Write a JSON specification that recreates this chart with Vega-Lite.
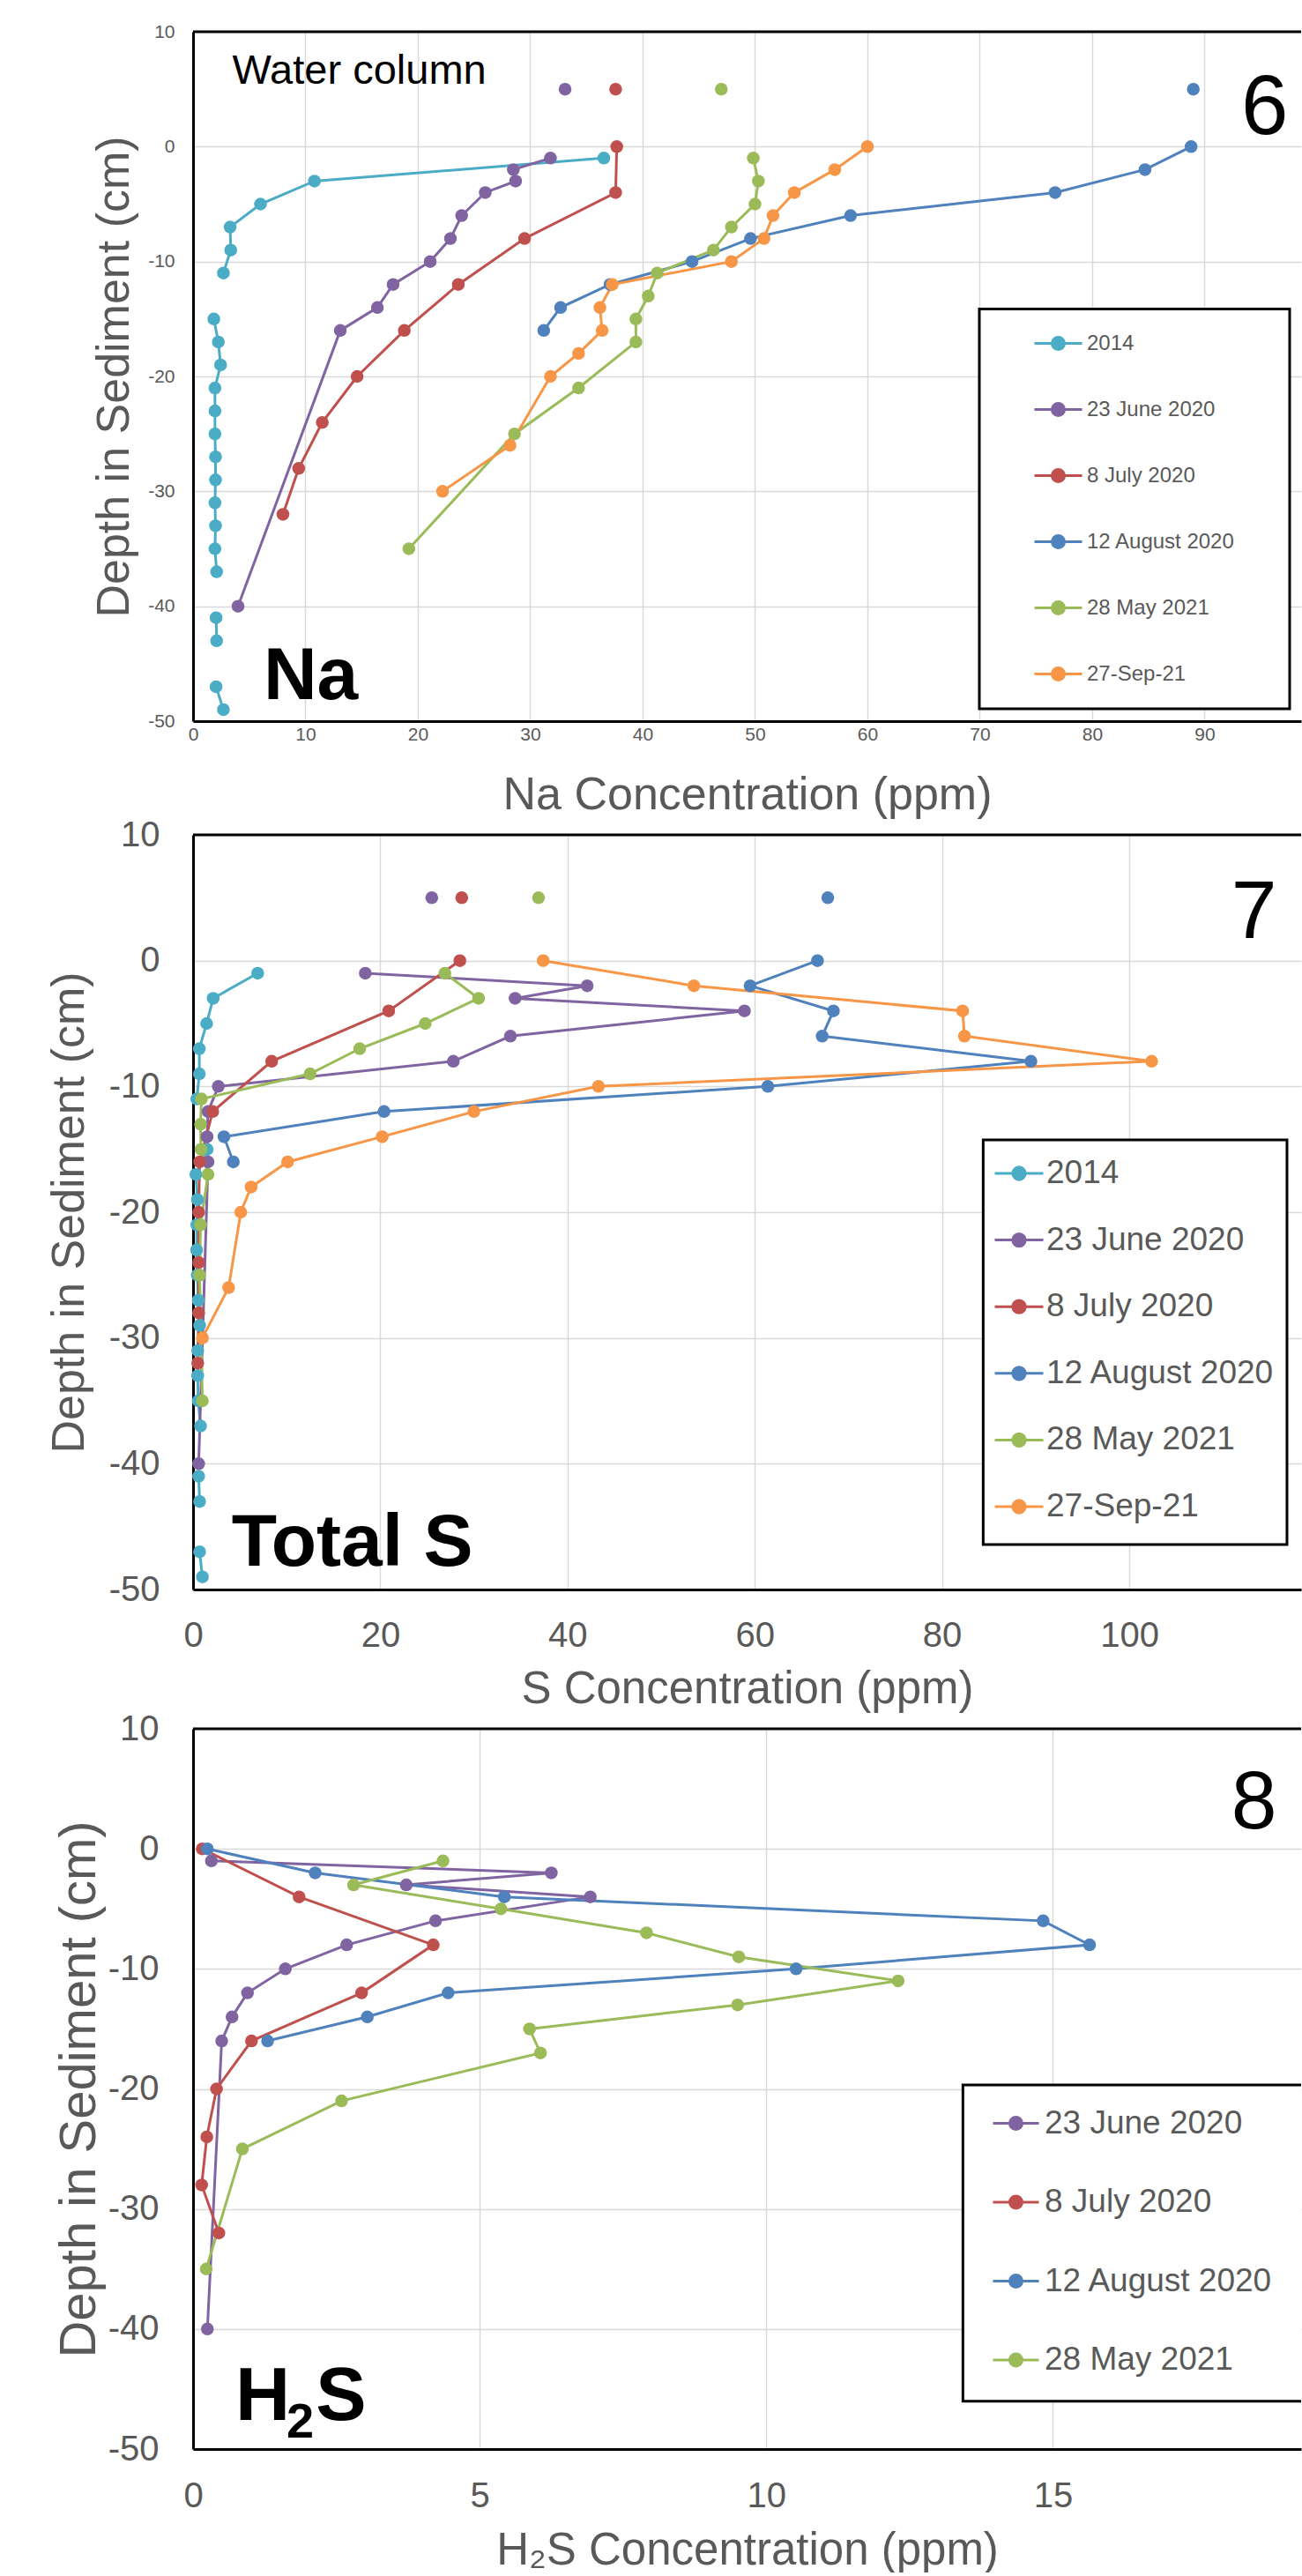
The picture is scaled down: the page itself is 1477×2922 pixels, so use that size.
{
  "$schema": "https://vega.github.io/schema/vega-lite/v6.json",
  "background": "white",
  "padding": {"left": 52, "top": 25, "right": 0, "bottom": 0},
  "spacing": 0,
  "config": {
    "font": "Liberation Sans",
    "locale": {"number": {"decimal": ".", "thousands": ",", "grouping": [3], "currency": ["$", ""], "minus": "-"}},
    "view": {"stroke": null},
    "axis": {
      "domainColor": "#000000", "domainWidth": 3,
      "gridColor": "#d9d9d9", "gridWidth": 1.5,
      "ticks": false,
      "labelColor": "#595959", "titleColor": "#595959",
      "titleFontWeight": "normal", "labelFont": "Liberation Sans", "titleFont": "Liberation Sans",
      "labelFlush": false, "labelOverlap": false
    },
    "legend": {"labelFont": "Liberation Sans"}
  },
  "resolve": {"scale": {"color": "independent"}},
  "datasets": {
    "na": [
      {"series":"2014","depth":-1,"conc":36.55,"zone":"sediment"},
      {"series":"2014","depth":-3,"conc":10.8,"zone":"sediment"},
      {"series":"2014","depth":-5,"conc":6.0,"zone":"sediment"},
      {"series":"2014","depth":-7,"conc":3.3,"zone":"sediment"},
      {"series":"2014","depth":-9,"conc":3.35,"zone":"sediment"},
      {"series":"2014","depth":-11,"conc":2.7,"zone":"sediment"},
      {"series":"2014","depth":-13,"conc":null,"zone":"sediment"},
      {"series":"2014","depth":-15,"conc":1.85,"zone":"sediment"},
      {"series":"2014","depth":-17,"conc":2.25,"zone":"sediment"},
      {"series":"2014","depth":-19,"conc":2.45,"zone":"sediment"},
      {"series":"2014","depth":-21,"conc":1.95,"zone":"sediment"},
      {"series":"2014","depth":-23,"conc":1.95,"zone":"sediment"},
      {"series":"2014","depth":-25,"conc":1.95,"zone":"sediment"},
      {"series":"2014","depth":-27,"conc":2.0,"zone":"sediment"},
      {"series":"2014","depth":-29,"conc":2.0,"zone":"sediment"},
      {"series":"2014","depth":-31,"conc":1.95,"zone":"sediment"},
      {"series":"2014","depth":-33,"conc":2.0,"zone":"sediment"},
      {"series":"2014","depth":-35,"conc":1.95,"zone":"sediment"},
      {"series":"2014","depth":-37,"conc":2.1,"zone":"sediment"},
      {"series":"2014","depth":-39,"conc":null,"zone":"sediment"},
      {"series":"2014","depth":-41,"conc":2.05,"zone":"sediment"},
      {"series":"2014","depth":-43,"conc":2.1,"zone":"sediment"},
      {"series":"2014","depth":-45,"conc":null,"zone":"sediment"},
      {"series":"2014","depth":-47,"conc":2.05,"zone":"sediment"},
      {"series":"2014","depth":-49,"conc":2.7,"zone":"sediment"},
      {"series":"23 June 2020","depth":5,"conc":33.1,"zone":"water column"},
      {"series":"23 June 2020","depth":-1,"conc":31.8,"zone":"sediment"},
      {"series":"23 June 2020","depth":-2,"conc":28.5,"zone":"sediment"},
      {"series":"23 June 2020","depth":-3,"conc":28.7,"zone":"sediment"},
      {"series":"23 June 2020","depth":-4,"conc":26.0,"zone":"sediment"},
      {"series":"23 June 2020","depth":-6,"conc":23.9,"zone":"sediment"},
      {"series":"23 June 2020","depth":-8,"conc":22.9,"zone":"sediment"},
      {"series":"23 June 2020","depth":-10,"conc":21.1,"zone":"sediment"},
      {"series":"23 June 2020","depth":-12,"conc":17.8,"zone":"sediment"},
      {"series":"23 June 2020","depth":-14,"conc":16.4,"zone":"sediment"},
      {"series":"23 June 2020","depth":-16,"conc":13.1,"zone":"sediment"},
      {"series":"23 June 2020","depth":-40,"conc":4.0,"zone":"sediment"},
      {"series":"8 July 2020","depth":5,"conc":37.6,"zone":"water column"},
      {"series":"8 July 2020","depth":0,"conc":37.7,"zone":"sediment"},
      {"series":"8 July 2020","depth":-4,"conc":37.6,"zone":"sediment"},
      {"series":"8 July 2020","depth":-8,"conc":29.5,"zone":"sediment"},
      {"series":"8 July 2020","depth":-12,"conc":23.6,"zone":"sediment"},
      {"series":"8 July 2020","depth":-16,"conc":18.8,"zone":"sediment"},
      {"series":"8 July 2020","depth":-20,"conc":14.6,"zone":"sediment"},
      {"series":"8 July 2020","depth":-24,"conc":11.5,"zone":"sediment"},
      {"series":"8 July 2020","depth":-28,"conc":9.4,"zone":"sediment"},
      {"series":"8 July 2020","depth":-32,"conc":8.0,"zone":"sediment"},
      {"series":"12 August 2020","depth":5,"conc":89.0,"zone":"water column"},
      {"series":"12 August 2020","depth":0,"conc":88.8,"zone":"sediment"},
      {"series":"12 August 2020","depth":-2,"conc":84.7,"zone":"sediment"},
      {"series":"12 August 2020","depth":-4,"conc":76.7,"zone":"sediment"},
      {"series":"12 August 2020","depth":-6,"conc":58.5,"zone":"sediment"},
      {"series":"12 August 2020","depth":-8,"conc":49.6,"zone":"sediment"},
      {"series":"12 August 2020","depth":-10,"conc":44.4,"zone":"sediment"},
      {"series":"12 August 2020","depth":-12,"conc":37.1,"zone":"sediment"},
      {"series":"12 August 2020","depth":-14,"conc":32.7,"zone":"sediment"},
      {"series":"12 August 2020","depth":-16,"conc":31.2,"zone":"sediment"},
      {"series":"28 May 2021","depth":5,"conc":47.0,"zone":"water column"},
      {"series":"28 May 2021","depth":-1,"conc":49.85,"zone":"sediment"},
      {"series":"28 May 2021","depth":-3,"conc":50.3,"zone":"sediment"},
      {"series":"28 May 2021","depth":-5,"conc":50.0,"zone":"sediment"},
      {"series":"28 May 2021","depth":-7,"conc":47.9,"zone":"sediment"},
      {"series":"28 May 2021","depth":-9,"conc":46.3,"zone":"sediment"},
      {"series":"28 May 2021","depth":-11,"conc":41.3,"zone":"sediment"},
      {"series":"28 May 2021","depth":-13,"conc":40.5,"zone":"sediment"},
      {"series":"28 May 2021","depth":-15,"conc":39.4,"zone":"sediment"},
      {"series":"28 May 2021","depth":-17,"conc":39.4,"zone":"sediment"},
      {"series":"28 May 2021","depth":-21,"conc":34.3,"zone":"sediment"},
      {"series":"28 May 2021","depth":-25,"conc":28.6,"zone":"sediment"},
      {"series":"28 May 2021","depth":-35,"conc":19.2,"zone":"sediment"},
      {"series":"27-Sep-21","depth":0,"conc":60.0,"zone":"sediment"},
      {"series":"27-Sep-21","depth":-2,"conc":57.1,"zone":"sediment"},
      {"series":"27-Sep-21","depth":-4,"conc":53.5,"zone":"sediment"},
      {"series":"27-Sep-21","depth":-6,"conc":51.6,"zone":"sediment"},
      {"series":"27-Sep-21","depth":-8,"conc":50.8,"zone":"sediment"},
      {"series":"27-Sep-21","depth":-10,"conc":47.9,"zone":"sediment"},
      {"series":"27-Sep-21","depth":-12,"conc":37.3,"zone":"sediment"},
      {"series":"27-Sep-21","depth":-14,"conc":36.2,"zone":"sediment"},
      {"series":"27-Sep-21","depth":-16,"conc":36.4,"zone":"sediment"},
      {"series":"27-Sep-21","depth":-18,"conc":34.3,"zone":"sediment"},
      {"series":"27-Sep-21","depth":-20,"conc":31.8,"zone":"sediment"},
      {"series":"27-Sep-21","depth":-26,"conc":28.2,"zone":"sediment"},
      {"series":"27-Sep-21","depth":-30,"conc":22.2,"zone":"sediment"}
    ],
    "s": [
      {"series":"2014","depth":-1,"conc":6.9,"zone":"sediment"},
      {"series":"2014","depth":-3,"conc":2.15,"zone":"sediment"},
      {"series":"2014","depth":-5,"conc":1.45,"zone":"sediment"},
      {"series":"2014","depth":-7,"conc":0.67,"zone":"sediment"},
      {"series":"2014","depth":-9,"conc":0.67,"zone":"sediment"},
      {"series":"2014","depth":-11,"conc":0.4,"zone":"sediment"},
      {"series":"2014","depth":-13,"conc":null,"zone":"sediment"},
      {"series":"2014","depth":-15,"conc":1.5,"zone":"sediment"},
      {"series":"2014","depth":-17,"conc":0.3,"zone":"sediment"},
      {"series":"2014","depth":-19,"conc":0.47,"zone":"sediment"},
      {"series":"2014","depth":-21,"conc":0.4,"zone":"sediment"},
      {"series":"2014","depth":-23,"conc":0.38,"zone":"sediment"},
      {"series":"2014","depth":-25,"conc":0.45,"zone":"sediment"},
      {"series":"2014","depth":-27,"conc":0.55,"zone":"sediment"},
      {"series":"2014","depth":-29,"conc":0.7,"zone":"sediment"},
      {"series":"2014","depth":-31,"conc":0.5,"zone":"sediment"},
      {"series":"2014","depth":-33,"conc":0.5,"zone":"sediment"},
      {"series":"2014","depth":-35,"conc":0.55,"zone":"sediment"},
      {"series":"2014","depth":-37,"conc":0.8,"zone":"sediment"},
      {"series":"2014","depth":-39,"conc":null,"zone":"sediment"},
      {"series":"2014","depth":-41,"conc":0.6,"zone":"sediment"},
      {"series":"2014","depth":-43,"conc":0.7,"zone":"sediment"},
      {"series":"2014","depth":-45,"conc":null,"zone":"sediment"},
      {"series":"2014","depth":-47,"conc":0.7,"zone":"sediment"},
      {"series":"2014","depth":-49,"conc":1.0,"zone":"sediment"},
      {"series":"23 June 2020","depth":5,"conc":25.5,"zone":"water column"},
      {"series":"23 June 2020","depth":-1,"conc":18.4,"zone":"sediment"},
      {"series":"23 June 2020","depth":-2,"conc":42.1,"zone":"sediment"},
      {"series":"23 June 2020","depth":-3,"conc":34.4,"zone":"sediment"},
      {"series":"23 June 2020","depth":-4,"conc":58.9,"zone":"sediment"},
      {"series":"23 June 2020","depth":-6,"conc":33.9,"zone":"sediment"},
      {"series":"23 June 2020","depth":-8,"conc":27.8,"zone":"sediment"},
      {"series":"23 June 2020","depth":-10,"conc":2.7,"zone":"sediment"},
      {"series":"23 June 2020","depth":-12,"conc":1.6,"zone":"sediment"},
      {"series":"23 June 2020","depth":-14,"conc":1.5,"zone":"sediment"},
      {"series":"23 June 2020","depth":-16,"conc":1.6,"zone":"sediment"},
      {"series":"23 June 2020","depth":-40,"conc":0.6,"zone":"sediment"},
      {"series":"8 July 2020","depth":5,"conc":28.7,"zone":"water column"},
      {"series":"8 July 2020","depth":0,"conc":28.5,"zone":"sediment"},
      {"series":"8 July 2020","depth":-4,"conc":20.9,"zone":"sediment"},
      {"series":"8 July 2020","depth":-8,"conc":8.4,"zone":"sediment"},
      {"series":"8 July 2020","depth":-12,"conc":2.1,"zone":"sediment"},
      {"series":"8 July 2020","depth":-16,"conc":0.7,"zone":"sediment"},
      {"series":"8 July 2020","depth":-20,"conc":0.6,"zone":"sediment"},
      {"series":"8 July 2020","depth":-24,"conc":0.6,"zone":"sediment"},
      {"series":"8 July 2020","depth":-28,"conc":0.6,"zone":"sediment"},
      {"series":"8 July 2020","depth":-32,"conc":0.5,"zone":"sediment"},
      {"series":"12 August 2020","depth":5,"conc":67.8,"zone":"water column"},
      {"series":"12 August 2020","depth":0,"conc":66.7,"zone":"sediment"},
      {"series":"12 August 2020","depth":-2,"conc":59.5,"zone":"sediment"},
      {"series":"12 August 2020","depth":-4,"conc":68.4,"zone":"sediment"},
      {"series":"12 August 2020","depth":-6,"conc":67.2,"zone":"sediment"},
      {"series":"12 August 2020","depth":-8,"conc":89.5,"zone":"sediment"},
      {"series":"12 August 2020","depth":-10,"conc":61.4,"zone":"sediment"},
      {"series":"12 August 2020","depth":-12,"conc":20.4,"zone":"sediment"},
      {"series":"12 August 2020","depth":-14,"conc":3.3,"zone":"sediment"},
      {"series":"12 August 2020","depth":-16,"conc":4.3,"zone":"sediment"},
      {"series":"28 May 2021","depth":5,"conc":36.9,"zone":"water column"},
      {"series":"28 May 2021","depth":-1,"conc":26.9,"zone":"sediment"},
      {"series":"28 May 2021","depth":-3,"conc":30.5,"zone":"sediment"},
      {"series":"28 May 2021","depth":-5,"conc":24.8,"zone":"sediment"},
      {"series":"28 May 2021","depth":-7,"conc":17.8,"zone":"sediment"},
      {"series":"28 May 2021","depth":-9,"conc":12.5,"zone":"sediment"},
      {"series":"28 May 2021","depth":-11,"conc":0.9,"zone":"sediment"},
      {"series":"28 May 2021","depth":-13,"conc":0.8,"zone":"sediment"},
      {"series":"28 May 2021","depth":-15,"conc":0.85,"zone":"sediment"},
      {"series":"28 May 2021","depth":-17,"conc":1.6,"zone":"sediment"},
      {"series":"28 May 2021","depth":-21,"conc":0.8,"zone":"sediment"},
      {"series":"28 May 2021","depth":-25,"conc":0.7,"zone":"sediment"},
      {"series":"28 May 2021","depth":-35,"conc":1.0,"zone":"sediment"},
      {"series":"27-Sep-21","depth":0,"conc":37.4,"zone":"sediment"},
      {"series":"27-Sep-21","depth":-2,"conc":53.5,"zone":"sediment"},
      {"series":"27-Sep-21","depth":-4,"conc":82.2,"zone":"sediment"},
      {"series":"27-Sep-21","depth":-6,"conc":82.4,"zone":"sediment"},
      {"series":"27-Sep-21","depth":-8,"conc":102.4,"zone":"sediment"},
      {"series":"27-Sep-21","depth":-10,"conc":43.3,"zone":"sediment"},
      {"series":"27-Sep-21","depth":-12,"conc":30.0,"zone":"sediment"},
      {"series":"27-Sep-21","depth":-14,"conc":20.2,"zone":"sediment"},
      {"series":"27-Sep-21","depth":-16,"conc":10.1,"zone":"sediment"},
      {"series":"27-Sep-21","depth":-18,"conc":6.2,"zone":"sediment"},
      {"series":"27-Sep-21","depth":-20,"conc":5.1,"zone":"sediment"},
      {"series":"27-Sep-21","depth":-26,"conc":3.8,"zone":"sediment"},
      {"series":"27-Sep-21","depth":-30,"conc":1.0,"zone":"sediment"}
    ],
    "h2s": [
      {"series":"23 June 2020","depth":-1,"conc":0.32,"zone":"sediment"},
      {"series":"23 June 2020","depth":-2,"conc":6.25,"zone":"sediment"},
      {"series":"23 June 2020","depth":-3,"conc":3.72,"zone":"sediment"},
      {"series":"23 June 2020","depth":-4,"conc":6.93,"zone":"sediment"},
      {"series":"23 June 2020","depth":-6,"conc":4.23,"zone":"sediment"},
      {"series":"23 June 2020","depth":-8,"conc":2.68,"zone":"sediment"},
      {"series":"23 June 2020","depth":-10,"conc":1.61,"zone":"sediment"},
      {"series":"23 June 2020","depth":-12,"conc":0.95,"zone":"sediment"},
      {"series":"23 June 2020","depth":-14,"conc":0.68,"zone":"sediment"},
      {"series":"23 June 2020","depth":-16,"conc":0.5,"zone":"sediment"},
      {"series":"23 June 2020","depth":-40,"conc":0.25,"zone":"sediment"},
      {"series":"8 July 2020","depth":0,"conc":0.16,"zone":"sediment"},
      {"series":"8 July 2020","depth":-4,"conc":1.85,"zone":"sediment"},
      {"series":"8 July 2020","depth":-8,"conc":4.19,"zone":"sediment"},
      {"series":"8 July 2020","depth":-12,"conc":2.94,"zone":"sediment"},
      {"series":"8 July 2020","depth":-16,"conc":1.02,"zone":"sediment"},
      {"series":"8 July 2020","depth":-20,"conc":0.41,"zone":"sediment"},
      {"series":"8 July 2020","depth":-24,"conc":0.24,"zone":"sediment"},
      {"series":"8 July 2020","depth":-28,"conc":0.15,"zone":"sediment"},
      {"series":"8 July 2020","depth":-32,"conc":0.45,"zone":"sediment"},
      {"series":"12 August 2020","depth":0,"conc":0.25,"zone":"sediment"},
      {"series":"12 August 2020","depth":-2,"conc":2.13,"zone":"sediment"},
      {"series":"12 August 2020","depth":-4,"conc":5.43,"zone":"sediment"},
      {"series":"12 August 2020","depth":-6,"conc":14.83,"zone":"sediment"},
      {"series":"12 August 2020","depth":-8,"conc":15.64,"zone":"sediment"},
      {"series":"12 August 2020","depth":-10,"conc":10.52,"zone":"sediment"},
      {"series":"12 August 2020","depth":-12,"conc":4.45,"zone":"sediment"},
      {"series":"12 August 2020","depth":-14,"conc":3.04,"zone":"sediment"},
      {"series":"12 August 2020","depth":-16,"conc":1.3,"zone":"sediment"},
      {"series":"28 May 2021","depth":-1,"conc":4.36,"zone":"sediment"},
      {"series":"28 May 2021","depth":-3,"conc":2.8,"zone":"sediment"},
      {"series":"28 May 2021","depth":-5,"conc":5.37,"zone":"sediment"},
      {"series":"28 May 2021","depth":-7,"conc":7.91,"zone":"sediment"},
      {"series":"28 May 2021","depth":-9,"conc":9.52,"zone":"sediment"},
      {"series":"28 May 2021","depth":-11,"conc":12.3,"zone":"sediment"},
      {"series":"28 May 2021","depth":-13,"conc":9.5,"zone":"sediment"},
      {"series":"28 May 2021","depth":-15,"conc":5.87,"zone":"sediment"},
      {"series":"28 May 2021","depth":-17,"conc":6.06,"zone":"sediment"},
      {"series":"28 May 2021","depth":-21,"conc":2.59,"zone":"sediment"},
      {"series":"28 May 2021","depth":-25,"conc":0.86,"zone":"sediment"},
      {"series":"28 May 2021","depth":-35,"conc":0.23,"zone":"sediment"}
    ]
  },
  "vconcat": [
    {
      "width": 1257, "height": 782,
      "layer": [
        {
          "data": {"name": "na"},
          "transform": [{"filter": "datum.zone == 'sediment'"}],
          "mark": {"type": "line", "strokeWidth": 3, "invalid": "break-paths-filter-domains"},
          "encoding": {
            "x": {"field": "conc", "type": "quantitative",
              "scale": {"domain": [0, 98.59], "nice": false, "zero": false},
              "axis": {"values": [0,10,20,30,40,50,60,70,80,90], "title": "Na Concentration (ppm)", "titleFontSize": 52, "labelFontSize": 21, "labelPadding": 4, "titleY": 58, "grid": true, "format": "d"}},
            "y": {"field": "depth", "type": "quantitative",
              "scale": {"domain": [-50, 10], "nice": false, "zero": false},
              "axis": {"values": [-50,-40,-30,-20,-10,0,10], "title": "Depth in Sediment (cm)", "titleFontSize": 52, "labelFontSize": 21, "labelPadding": 21, "titleX": -63, "grid": true, "format": "d"}},
            "color": {"field": "series", "type": "nominal",
              "scale": {"domain": ["2014","23 June 2020","8 July 2020","12 August 2020","28 May 2021","27-Sep-21"], "range": ["#4BACC6","#8064A2","#C0504D","#4F81BD","#9BBB59","#F79646"]},
              "legend": {"orient": "none", "legendX": 953, "legendY": 325, "title": null, "zindex": 2, "padding": 0,
                "symbolType": "M-1,0H1M0.26,0A0.26,0.26,0,1,1,-0.26,0A0.26,0.26,0,1,1,0.26,0M0.17,0A0.17,0.17,0,1,1,-0.17,0A0.17,0.17,0,1,1,0.17,0M0.08,0A0.08,0.08,0,1,1,-0.08,0A0.08,0.08,0,1,1,0.08,0",
                "symbolSize": 2916, "symbolStrokeWidth": 3, "symbolOpacity": 1, "labelFontSize": 24, "labelColor": "#595959", "labelOffset": 4, "labelLimit": 400, "rowPadding": 33}},
            "order": {"field": "depth", "sort": "descending"}
          }
        },
        {
          "data": {"name": "na"},
          "mark": {"type": "point", "filled": true, "size": 210, "opacity": 1},
          "encoding": {
            "x": {"field": "conc", "type": "quantitative"},
            "y": {"field": "depth", "type": "quantitative"},
            "color": {"field": "series", "type": "nominal", "legend": null}
          }
        },
        {
          "data": {"values": [{}]},
          "mark": {"type": "rule", "color": "#000000", "strokeWidth": 3},
          "encoding": {
            "x": {"datum": 0, "type": "quantitative"},
            "x2": {"datum": 98.59},
            "y": {"datum": 10, "type": "quantitative"}
          }
        },
        {
          "data": {"values": [{}]},
          "mark": {"type": "rect", "fill": "white", "stroke": "#000000", "strokeWidth": 3},
          "encoding": {
            "x": {"datum": 69.96, "type": "quantitative"},
            "x2": {"datum": 97.57},
            "y": {"datum": -14.14, "type": "quantitative"},
            "y2": {"datum": -48.93}
          }
        },
        {
          "data": {"values": [{}]},
          "mark": {"type": "text", "text": "Water column", "align": "left", "baseline": "alphabetic", "fontSize": 47, "color": "#000000"},
          "encoding": {
            "x": {"datum": 3.49, "type": "quantitative"},
            "y": {"datum": 5.47, "type": "quantitative"}
          }
        },
        {
          "data": {"values": [{}]},
          "mark": {"type": "text", "text": "6", "align": "left", "baseline": "alphabetic", "fontSize": 96, "color": "#000000"},
          "encoding": {
            "x": {"datum": 93.25, "type": "quantitative"},
            "y": {"datum": 1.1, "type": "quantitative"}
          }
        },
        {
          "data": {"values": [{}]},
          "mark": {"type": "text", "text": "Na", "align": "left", "baseline": "alphabetic", "fontSize": 84, "fontWeight": "bold", "color": "#000000"},
          "encoding": {
            "x": {"datum": 6.27, "type": "quantitative"},
            "y": {"datum": -48.08, "type": "quantitative"}
          }
        }
      ]
    },
    {
      "width": 1257, "height": 856,
      "layer": [
        {
          "data": {"name": "s"},
          "transform": [{"filter": "datum.zone == 'sediment'"}],
          "mark": {"type": "line", "strokeWidth": 3, "invalid": "break-paths-filter-domains"},
          "encoding": {
            "x": {"field": "conc", "type": "quantitative",
              "scale": {"domain": [0, 118.36], "nice": false, "zero": false},
              "axis": {"values": [0,20,40,60,80,100], "title": "S Concentration (ppm)", "titleFontSize": 51, "labelFontSize": 40, "labelPadding": 32, "titleY": 88, "grid": true, "format": "d"}},
            "y": {"field": "depth", "type": "quantitative",
              "scale": {"domain": [-50, 10], "nice": false, "zero": false},
              "axis": {"values": [-50,-40,-30,-20,-10,0,10], "title": "Depth in Sediment (cm)", "titleFontSize": 52, "labelFontSize": 40, "labelPadding": 38, "titleX": -114, "grid": true, "format": "d"}},
            "color": {"field": "series", "type": "nominal",
              "scale": {"domain": ["2014","23 June 2020","8 July 2020","12 August 2020","28 May 2021","27-Sep-21"], "range": ["#4BACC6","#8064A2","#C0504D","#4F81BD","#9BBB59","#F79646"]},
              "legend": {"orient": "none", "legendX": 908, "legendY": 355, "title": null, "zindex": 2, "padding": 0,
                "symbolType": "M-1,0H1M0.26,0A0.26,0.26,0,1,1,-0.26,0A0.26,0.26,0,1,1,0.26,0M0.17,0A0.17,0.17,0,1,1,-0.17,0A0.17,0.17,0,1,1,0.17,0M0.08,0A0.08,0.08,0,1,1,-0.08,0A0.08,0.08,0,1,1,0.08,0",
                "symbolSize": 3025, "symbolStrokeWidth": 3, "symbolOpacity": 1, "labelFontSize": 37, "labelColor": "#595959", "labelOffset": 2, "labelLimit": 500, "rowPadding": 28.6}},
            "order": {"field": "depth", "sort": "descending"}
          }
        },
        {
          "data": {"name": "s"},
          "mark": {"type": "point", "filled": true, "size": 210, "opacity": 1},
          "encoding": {
            "x": {"field": "conc", "type": "quantitative"},
            "y": {"field": "depth", "type": "quantitative"},
            "color": {"field": "series", "type": "nominal", "legend": null}
          }
        },
        {
          "data": {"values": [{}]},
          "mark": {"type": "rule", "color": "#000000", "strokeWidth": 3},
          "encoding": {
            "x": {"datum": 0, "type": "quantitative"},
            "x2": {"datum": 118.36},
            "y": {"datum": 10, "type": "quantitative"}
          }
        },
        {
          "data": {"values": [{}]},
          "mark": {"type": "rect", "fill": "white", "stroke": "#000000", "strokeWidth": 3},
          "encoding": {
            "x": {"datum": 84.4, "type": "quantitative"},
            "x2": {"datum": 116.85},
            "y": {"datum": -14.25, "type": "quantitative"},
            "y2": {"datum": -46.42}
          }
        },
        {
          "data": {"values": [{}]},
          "mark": {"type": "text", "text": "7", "align": "left", "baseline": "alphabetic", "fontSize": 93, "color": "#000000"},
          "encoding": {
            "x": {"datum": 110.9, "type": "quantitative"},
            "y": {"datum": 1.8, "type": "quantitative"}
          }
        },
        {
          "data": {"values": [{}]},
          "mark": {"type": "text", "text": "Total S", "align": "left", "baseline": "alphabetic", "fontSize": 84, "fontWeight": "bold", "color": "#000000"},
          "encoding": {
            "x": {"datum": 4.11, "type": "quantitative"},
            "y": {"datum": -48.1, "type": "quantitative"}
          }
        }
      ]
    },
    {
      "width": 1257, "height": 817,
      "layer": [
        {
          "data": {"name": "h2s"},
          "transform": [{"filter": "datum.zone == 'sediment'"}],
          "mark": {"type": "line", "strokeWidth": 3, "invalid": "break-paths-filter-domains"},
          "encoding": {
            "x": {"field": "conc", "type": "quantitative",
              "scale": {"domain": [0, 19.33], "nice": false, "zero": false},
              "axis": {"values": [0,5,10,15], "title": "H₂S Concentration (ppm)", "titleFontSize": 51, "labelFontSize": 40, "labelPadding": 33, "titleY": 90, "grid": true, "format": "d"}},
            "y": {"field": "depth", "type": "quantitative",
              "scale": {"domain": [-50, 10], "nice": false, "zero": false},
              "axis": {"values": [-50,-40,-30,-20,-10,0,10], "title": "Depth in Sediment (cm)", "titleFontSize": 58, "labelFontSize": 40, "labelPadding": 39, "titleX": -100, "grid": true, "format": "d"}},
            "color": {"field": "series", "type": "nominal",
              "scale": {"domain": ["23 June 2020","8 July 2020","12 August 2020","28 May 2021"], "range": ["#8064A2","#C0504D","#4F81BD","#9BBB59"]},
              "legend": {"orient": "none", "legendX": 906, "legendY": 420, "title": null, "zindex": 2, "padding": 0,
                "symbolType": "M-1,0H1M0.27,0A0.27,0.27,0,1,1,-0.27,0A0.27,0.27,0,1,1,0.27,0M0.17,0A0.17,0.17,0,1,1,-0.17,0A0.17,0.17,0,1,1,0.17,0M0.08,0A0.08,0.08,0,1,1,-0.08,0A0.08,0.08,0,1,1,0.08,0",
                "symbolSize": 2704, "symbolStrokeWidth": 3, "symbolOpacity": 1, "labelFontSize": 37, "labelColor": "#595959", "labelOffset": 5, "labelLimit": 500, "rowPadding": 43.5}},
            "order": {"field": "depth", "sort": "descending"}
          }
        },
        {
          "data": {"name": "h2s"},
          "mark": {"type": "point", "filled": true, "size": 210, "opacity": 1},
          "encoding": {
            "x": {"field": "conc", "type": "quantitative"},
            "y": {"field": "depth", "type": "quantitative"},
            "color": {"field": "series", "type": "nominal", "legend": null}
          }
        },
        {
          "data": {"values": [{}]},
          "mark": {"type": "rule", "color": "#000000", "strokeWidth": 3},
          "encoding": {
            "x": {"datum": 0, "type": "quantitative"},
            "x2": {"datum": 19.33},
            "y": {"datum": 10, "type": "quantitative"}
          }
        },
        {
          "data": {"values": [{}]},
          "mark": {"type": "rect", "fill": "white", "stroke": "#000000", "strokeWidth": 3, "clip": true},
          "encoding": {
            "x": {"datum": 13.43, "type": "quantitative"},
            "x2": {"datum": 19.6},
            "y": {"datum": -19.67, "type": "quantitative"},
            "y2": {"datum": -46.01}
          }
        },
        {
          "data": {"values": [{}]},
          "mark": {"type": "text", "text": "8", "align": "left", "baseline": "alphabetic", "fontSize": 93, "color": "#000000"},
          "encoding": {
            "x": {"datum": 18.11, "type": "quantitative"},
            "y": {"datum": 1.72, "type": "quantitative"}
          }
        },
        {
          "data": {"values": [{}]},
          "mark": {"type": "text", "text": "H", "align": "left", "baseline": "alphabetic", "fontSize": 86, "fontWeight": "bold", "color": "#000000"},
          "encoding": {
            "x": {"datum": 0.738, "type": "quantitative"},
            "y": {"datum": -47.55, "type": "quantitative"}
          }
        },
        {
          "data": {"values": [{}]},
          "mark": {"type": "text", "text": "2", "align": "left", "baseline": "alphabetic", "fontSize": 56, "fontWeight": "bold", "color": "#000000"},
          "encoding": {
            "x": {"datum": 1.63, "type": "quantitative"},
            "y": {"datum": -49.04, "type": "quantitative"}
          }
        },
        {
          "data": {"values": [{}]},
          "mark": {"type": "text", "text": "S", "align": "left", "baseline": "alphabetic", "fontSize": 86, "fontWeight": "bold", "color": "#000000"},
          "encoding": {
            "x": {"datum": 2.14, "type": "quantitative"},
            "y": {"datum": -47.55, "type": "quantitative"}
          }
        }
      ]
    }
  ]
}
